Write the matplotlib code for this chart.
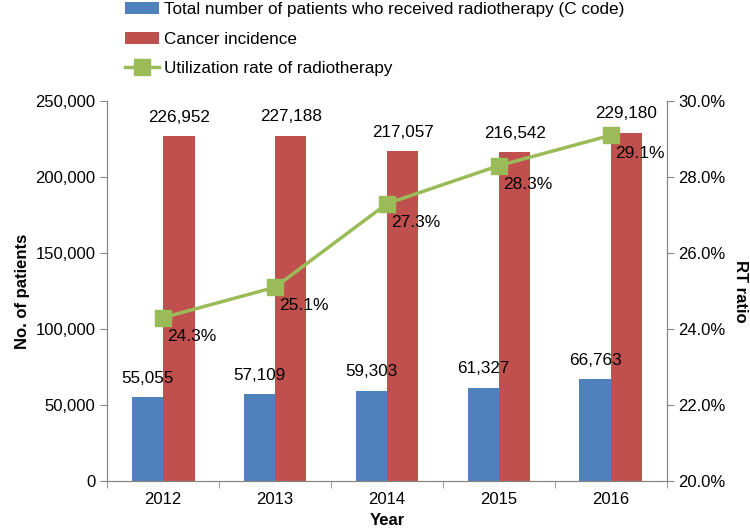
import matplotlib
matplotlib.use("agg")
import matplotlib.pyplot as plt
import numpy as np
from matplotlib.ticker import FuncFormatter, FixedLocator

plt.rcParams['font.family'] = ['Liberation Sans', 'DejaVu Sans']

years = ['2012', '2013', '2014', '2015', '2016']
rt_patients = [55055, 57109, 59303, 61327, 66763]
incidence = [226952, 227188, 217057, 216542, 229180]
rt_rate = [24.3, 25.1, 27.3, 28.3, 29.1]

blue = '#4F81BD'
red = '#C0504D'
green = '#9BBB59'
grey = '#868686'

fig = plt.figure(figsize=(7.5, 5.32), dpi=100)
ax = fig.add_axes([0.143, 0.096, 0.746, 0.714])
ax2 = ax.twinx()

x = np.arange(len(years))
w = 0.28
b1 = ax.bar(x - w / 2, rt_patients, w, color=blue, label='Total number of patients who received radiotherapy (C code)')
b2 = ax.bar(x + w / 2, incidence, w, color=red, label='Cancer incidence')

# value labels above the bars
for i in range(len(years)):
    ax.text(x[i] - w / 2, rt_patients[i] + 7500, f'{rt_patients[i]:,}', ha='center', va='bottom', fontsize=12.3)
    ax.text(x[i] + w / 2, incidence[i] + 7500, f'{incidence[i]:,}', ha='center', va='bottom', fontsize=12.3)

ln, = ax2.plot(x, rt_rate, color=green, lw=2.5, marker='s', ms=11.5, label='Utilization rate of radiotherapy')
for i in range(len(years)):
    ax2.annotate(f'{rt_rate[i]:.1f}%', (x[i], rt_rate[i]), xytext=(3, -8), textcoords='offset points',
                 ha='left', va='top', fontsize=12.5)

ax.set_xlim(-0.5, 4.5)
ax.set_ylim(0, 250000)
ax2.set_ylim(20, 30)
ax.set_yticks(np.arange(0, 250001, 50000))
ax.yaxis.set_major_formatter(FuncFormatter(lambda v, p: f'{int(v):,}'))
ax2.set_yticks(np.arange(20, 30.1, 2))
ax2.yaxis.set_major_formatter(FuncFormatter(lambda v, p: f'{v:.1f}%'))

ax.set_xticks(x)
ax.set_xticklabels(years)
ax.xaxis.set_minor_locator(FixedLocator(np.arange(-0.5, 4.6, 1)))
ax.tick_params(axis='x', which='major', length=0, pad=8)
ax.tick_params(axis='x', which='minor', length=5, color=grey)
ax.tick_params(axis='y', length=5, color=grey)
ax2.tick_params(axis='y', length=5, color=grey)
for a in (ax, ax2):
    a.tick_params(labelsize=12)
    for s in a.spines.values():
        s.set_color(grey)
    a.spines['top'].set_visible(False)

ax.set_xlabel('Year', fontsize=12, fontweight='bold')
ax.set_ylabel('No. of patients', fontsize=12, fontweight='bold')
ax2.set_ylabel('RT ratio', fontsize=12, fontweight='bold', rotation=270, labelpad=16)

fig.legend(handles=[b1, b2, ln], loc='upper left', bbox_to_anchor=(0.146, 1.025), frameon=False,
           fontsize=12.3, handlelength=2.0, labelspacing=0.85, handletextpad=0.3)

fig.savefig('out.png', dpi=100)
